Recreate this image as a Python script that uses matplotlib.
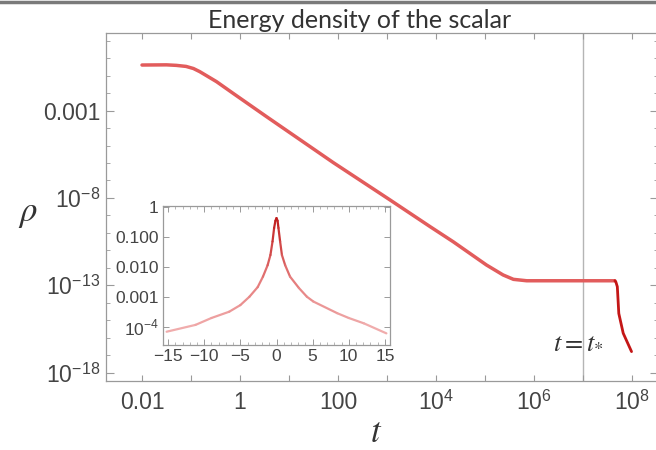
import numpy as np
import matplotlib
matplotlib.use('Agg')
import matplotlib.pyplot as plt
from matplotlib.collections import LineCollection
from matplotlib.colors import LinearSegmentedColormap, Normalize
from matplotlib.lines import Line2D

plt.rcParams['mathtext.fontset'] = 'stix'
plt.rcParams['font.family'] = ['Liberation Sans', 'DejaVu Sans']

# ---------------- data ----------------
t_main = [0.01, 0.0316, 0.0501, 0.0794, 0.112, 0.151, 0.331, 0.724, 3.47, 79.4,
          1150, 7590, 22400, 107000, 234000, 380000, 708000,
          4.47e7, 4.68e7, 5.01e7, 5.37e7, 6.61e7, 9.77e7]
rho_main = [0.398, 0.407, 0.380, 0.331, 0.251, 0.166, 0.0447, 0.00955, 4.47e-4, 1.07e-6,
            7.76e-9, 2.29e-10, 3.16e-11, 1.48e-12, 3.98e-13, 2.24e-13, 1.86e-13,
            1.86e-13, 1.58e-13, 8.51e-14, 2.51e-15, 1.86e-16, 1.66e-17]

t_inset = [-15.2, -11.2, -9.0, -6.54, -5.0, -3.74, -2.6, -1.87, -1.23, -0.84, -0.55, -0.33,
           -0.15, 0.0, 0.15, 0.27, 0.5, 0.75, 1.2, 1.87, 3.1, 4.2, 5.1, 8.4, 10.0, 12.1, 15.2]
rho_inset = [6.8e-5, 1.15e-4, 1.95e-4, 3.16e-4, 5.25e-4, 1.0e-3, 2.09e-3, 4.68e-3, 0.0112,
             0.0245, 0.0692, 0.195, 0.339, 0.417,
             0.339, 0.195, 0.0692, 0.0245, 0.0112, 4.68e-3, 1.95e-3, 1.0e-3, 6.9e-4, 2.82e-4,
             1.95e-4, 1.29e-4, 6.0e-5]

t_star = 1e7

main_xticks = [1e-2, 1e-1, 1e0, 1e1, 1e2, 1e3, 1e4, 1e5, 1e6, 1e7, 1e8]
main_xticklabels = ['0.01', '', '1', '', '100', '',
                    r'10$^{\mathregular{4}}$', '', r'10$^{\mathregular{6}}$', '',
                    r'10$^{\mathregular{8}}$']
main_yticks = [1e-3, 1e-8, 1e-13, 1e-18]
main_yticklabels = ['0.001', r'10$^{\mathregular{−8}}$',
                    r'10$^{\mathregular{−13}}$', r'10$^{\mathregular{−18}}$']
main_yminor = [10.0 ** k for k in range(-18, 2)]

inset_xticks = [-15, -10, -5, 0, 5, 10, 15]
inset_xticklabels = ['−15', '−10', '−5', '0', '5', '10', '15']
inset_yticks = [1, 0.1, 0.01, 0.001, 1e-4]
inset_yticklabels = ['1', '0.100', '0.010', '0.001', r'10$^{\mathregular{−4}}$']

title = 'Energy density of the scalar'

# ---------------- figure ----------------
W, H = 656, 450
fig = plt.figure(figsize=(W / 100, H / 100), dpi=100)

spine_c = '#9a9a9a'
text_c = '#444444'

ax = fig.add_axes([106 / W, 69 / H, (658 - 106) / W, (381 - 33) / H])
ax.set_xscale('log')
ax.set_yscale('log')
ax.set_xlim(10 ** -2.735, 10 ** 8.53)
ax.set_ylim(10 ** -18.46, 10 ** 1.43)

ax.axvline(t_star, color='#b5b5b5', lw=1.0, zorder=1)
ax.plot(t_main[:18], rho_main[:18], color='#e25c5c', lw=2.5, solid_capstyle='round',
        solid_joinstyle='round', zorder=3)
ax.plot(t_main[17:], rho_main[17:], color='#c41616', lw=2.0, solid_capstyle='round',
        solid_joinstyle='round', zorder=3)

ax.set_xticks(main_xticks)
ax.set_xticklabels(main_xticklabels)
ax.xaxis.set_minor_locator(matplotlib.ticker.NullLocator())
ax.set_yticks(main_yticks)
ax.set_yticklabels(main_yticklabels)
ax.set_yticks(main_yminor, minor=True)
ax.yaxis.set_minor_formatter(matplotlib.ticker.NullFormatter())
ax.tick_params(axis='both', which='major', direction='in', length=6, width=0.8,
               color=spine_c, labelsize=16.5, labelcolor=text_c, top=True, right=True)
ax.tick_params(axis='both', which='minor', direction='in', length=3, width=0.6,
               color=spine_c, top=True, right=True)
ax.tick_params(axis='x', which='major', length=4, pad=7)
ax.tick_params(axis='y', which='major', pad=4)
for s in ax.spines.values():
    s.set_color(spine_c)
    s.set_linewidth(0.9)

# inset
axi = fig.add_axes([163 / W, (H - 345) / H, (390 - 163) / W, (345 - 205.5) / H])
axi.set_yscale('log')
axi.set_xlim(-15.7, 15.7)
axi.set_ylim(10 ** -4.61, 10 ** 0.04)
pts = np.column_stack([t_inset, rho_inset])
segs = np.stack([pts[:-1], pts[1:]], axis=1)
lr = np.log10(np.array(rho_inset))
mid = 0.5 * (lr[:-1] + lr[1:])
cmap = LinearSegmentedColormap.from_list('pk', ['#f2b4b4', '#e47878', '#c01c1c'])
lc = LineCollection(segs, colors=cmap(Normalize(-4.3, -0.4)(mid)), linewidths=1.6,
                    capstyle='round', joinstyle='round')
axi.add_collection(lc)
axi.set_xticks(inset_xticks)
axi.set_xticklabels(inset_xticklabels)
axi.set_xticks(list(range(-15, 16)), minor=True)
axi.set_yticks(inset_yticks)
axi.set_yticklabels(inset_yticklabels)
axi.tick_params(axis='both', which='major', direction='in', length=4, width=0.7,
                color=spine_c, labelsize=12.5, labelcolor=text_c, top=True, right=True, pad=3)
axi.tick_params(axis='both', which='minor', direction='in', length=2, width=0.5,
                color=spine_c, top=True, right=True)
for s in axi.spines.values():
    s.set_color(spine_c)
    s.set_linewidth(0.9)

# texts
fig.text(360 / W, 1 - 28 / H, title, fontsize=18, family='Lato', color='#333333',
         ha='center', va='baseline')
fig.text(28 / W, 1 - 213 / H, r'$\rho$', fontsize=25, color='#333333', ha='center', va='center')
fig.text(376 / W, 1 - 432 / H, r'$t$', fontsize=25, color='#333333', ha='center', va='center')
fig.text(578 / W, 1 - 341 / H, r'$t = t_{*}$', fontsize=19, color='#333333',
         ha='center', va='center')

fig.add_artist(Line2D([0, 1], [1 - 1.5 / H, 1 - 1.5 / H], transform=fig.transFigure,
                      color='#7a7a7a', lw=2.5))

fig.savefig('out.png', dpi=100)
